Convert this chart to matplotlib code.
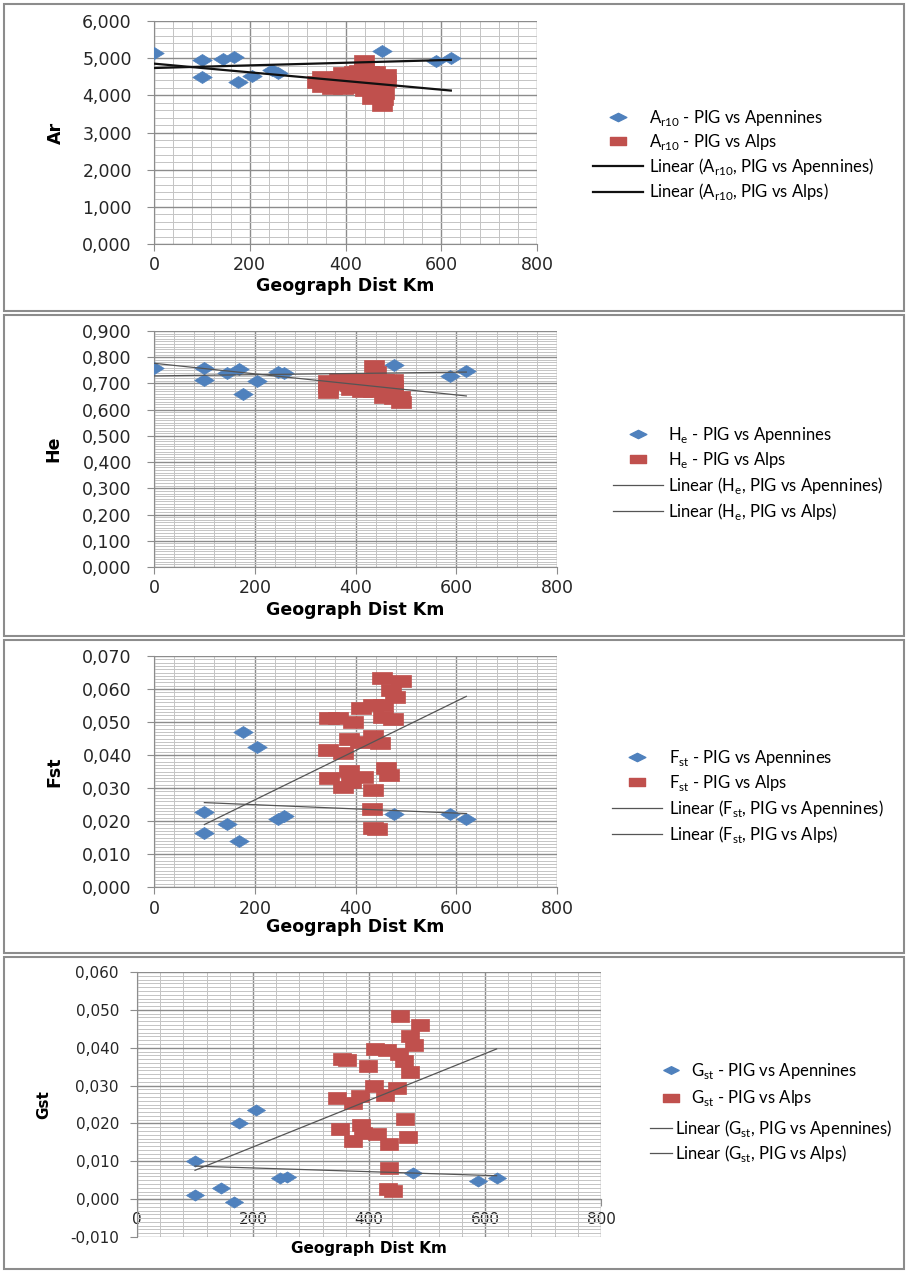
import matplotlib.pyplot as plt
import numpy as np
from matplotlib.path import Path
from matplotlib.lines import Line2D
from matplotlib.patches import Rectangle
from matplotlib.ticker import MultipleLocator, FuncFormatter

# PIG vs Apennines: geographic distance (km) and per-pair statistics
apen_km = [0, 100, 100, 145, 168, 176, 205, 246, 258, 476, 588, 620]
ar_apen = [5.14, 4.95, 4.50, 4.99, 5.03, 4.35, 4.52, 4.69, 4.60, 5.20, 4.93, 5.01]
he_apen = [0.757, 0.757, 0.712, 0.740, 0.754, 0.659, 0.709, 0.742, 0.740, 0.772, 0.729, 0.747]
# differentiation indices have no zero-distance pair
dif_apen_km = apen_km[1:]
fst_apen = [0.0227, 0.0164, 0.0190, 0.0139, 0.0471, 0.0425, 0.0207, 0.0215, 0.0222, 0.0220, 0.0207]
gst_apen = [0.0101, 0.0012, 0.0030, -0.0007, 0.0201, 0.0236, 0.0056, 0.0059, 0.0070, 0.0049, 0.0056]

# PIG vs Alps
ar_alps_km = [439, 439, 350, 350, 372, 372, 395, 395, 395, 418, 418, 418, 440, 440, 440,
              462, 462, 462, 462, 485, 485, 455, 476, 478, 480, 340, 388, 428, 450]
ar_alps = [4.93, 4.70, 4.48, 4.25, 4.38, 4.19, 4.60, 4.38, 4.20, 4.62, 4.40, 4.22, 4.50, 4.30, 4.15,
           4.62, 4.42, 4.20, 4.02, 4.56, 4.38, 3.92, 3.75, 3.90, 4.05, 4.35, 4.48, 4.66, 4.64]
he_alps_km = [437, 440, 346, 346, 346, 368, 368, 390, 390, 392, 412, 412, 412, 434, 434,
              434, 456, 456, 458, 456, 475, 475, 475, 477, 490, 488, 470, 420, 380]
he_alps = [0.765, 0.745, 0.710, 0.686, 0.668, 0.716, 0.697, 0.717, 0.695, 0.680, 0.716, 0.694, 0.670,
           0.715, 0.693, 0.670, 0.712, 0.690, 0.660, 0.648, 0.713, 0.690, 0.665, 0.645, 0.630, 0.650,
           0.700, 0.705, 0.705]
fst_alps_km = [453, 490, 471, 478, 411, 435, 455, 455, 475, 348, 365, 395, 388, 408, 435,
               448, 345, 375, 461, 466, 388, 348, 415, 375, 391, 435, 432, 435, 442]
fst_alps = [0.0632, 0.0624, 0.0597, 0.0575, 0.0543, 0.0552, 0.0552, 0.0516, 0.0508, 0.0513, 0.0513,
            0.0501, 0.0447, 0.0440, 0.0458, 0.0437, 0.0415, 0.0407, 0.0360, 0.0339, 0.0351, 0.0331,
            0.0332, 0.0304, 0.0319, 0.0294, 0.0235, 0.0178, 0.0175]
gst_alps_km = [454, 488, 471, 477, 410, 431, 451, 460, 471, 353, 362, 398, 408, 428, 448,
               344, 373, 384, 462, 350, 373, 387, 390, 413, 435, 468, 434, 433, 442]
gst_alps = [0.0485, 0.0459, 0.0432, 0.0406, 0.0397, 0.0393, 0.0384, 0.0366, 0.0337, 0.0370, 0.0367,
            0.0353, 0.0298, 0.0275, 0.0293, 0.0267, 0.0254, 0.0273, 0.0212, 0.0185, 0.0154, 0.0196,
            0.0174, 0.0172, 0.0145, 0.0163, 0.0083, 0.0027, 0.0021]

W, H = 906, 1271
fig = plt.figure(figsize=(W / 100, H / 100), dpi=100)

blue = '#4f81bd'
red = '#c0504d'
gmajor = '#8c8c8c'
gminor = '#c4c4c4'

# excel-like markers, stretched wide
diamond = Path([(0, -0.62), (1, 0), (0, 0.62), (-1, 0), (0, -0.62)], closed=True)
square = Path([(-1, -0.62), (1, -0.62), (1, 0.62), (-1, 0.62), (-1, -0.62)], closed=True)
leg_diamond = Path([(0, -0.5), (1, 0), (0, 0.5), (-1, 0), (0, -0.5)], closed=True)
leg_square = Path([(-1, -0.5), (1, -0.5), (1, 0.5), (-1, 0.5), (-1, -0.5)], closed=True)


def comma3(v, pos):
    if abs(v) < 1e-12:
        v = 0.0
    return f'{v:.3f}'.replace('.', ',')


def add_panel(box, ylim, ystep, yminor, apen_x, apen_y, alps_x, alps_y, ylabel,
              tcolor, tlw, ms, fs, ypad, xlab_y, ylab_x, x_at_zero=False):
    l, t, r, b = box
    ax = fig.add_axes([l / W, 1 - b / H, (r - l) / W, (b - t) / H])
    ax.set_xlim(0, 800)
    ax.set_ylim(*ylim)
    ax.xaxis.set_major_locator(MultipleLocator(200))
    ax.xaxis.set_minor_locator(MultipleLocator(40))
    ax.yaxis.set_major_locator(MultipleLocator(ystep))
    ax.yaxis.set_minor_locator(MultipleLocator(yminor))
    ax.yaxis.set_major_formatter(FuncFormatter(comma3))
    ax.set_axisbelow(True)
    ax.grid(which='minor', color=gminor, lw=0.7)
    ax.grid(which='major', color=gmajor, lw=1.0)
    for side in ('top', 'right'):
        ax.spines[side].set_visible(False)
    for side in ('left', 'bottom'):
        ax.spines[side].set_color(gmajor)
    if x_at_zero:
        ax.spines['bottom'].set_position(('data', 0))
    ax.tick_params(which='major', direction='out', length=5, color=gmajor,
                   labelsize=fs, labelcolor='#262626')
    ax.tick_params(axis='y', pad=ypad)
    ax.tick_params(axis='x', pad=4)
    ax.tick_params(which='minor', length=0)

    ax.plot(apen_x, apen_y, ls='none', marker=diamond, ms=ms, color=blue, mec=blue, mew=0.5, zorder=3)
    ax.plot(alps_x, alps_y, ls='none', marker=square, ms=ms, color=red, mec=red, mew=0.5, zorder=3)

    # linear trends, drawn across the full distance range
    xs = np.array([min(min(apen_x), min(alps_x)), max(max(apen_x), max(alps_x))], dtype=float)
    for xv, yv in ((apen_x, apen_y), (alps_x, alps_y)):
        k, c = np.polyfit(xv, yv, 1)
        ax.plot(xs, k * xs + c, color=tcolor, lw=tlw, zorder=4)

    ax.set_xlabel('Geograph Dist Km', fontsize=fs, fontweight='bold')
    ax.xaxis.set_label_coords(0.5, (b - xlab_y) / (b - t))
    ax.xaxis.label.set_va('center')
    ax.set_ylabel(ylabel, fontsize=fs, fontweight='bold')
    ax.yaxis.set_label_coords((ylab_x - l) / (r - l), 0.5)
    ax.yaxis.label.set_va('center')
    return ax


def handles(kind, tcolor, tlw, ms):
    out = []
    if 'm' in kind:
        out += [Line2D([], [], ls='none', marker=leg_diamond, ms=ms, color=blue),
                Line2D([], [], ls='none', marker=leg_square, ms=ms, color=red)]
    if 'l' in kind:
        out += [Line2D([], [], color=tcolor, lw=tlw), Line2D([], [], color=tcolor, lw=tlw)]
    return out


def add_legend(ax, hs, labels, x, y, hlen, pad, fs=12, spacing=0.25):
    return ax.legend(hs, labels, loc='upper left', bbox_to_anchor=(x / W, 1 - y / H),
                     bbox_transform=fig.transFigure, frameon=False, borderpad=0,
                     borderaxespad=0, handlelength=hlen, handletextpad=pad,
                     labelspacing=spacing, prop={'family': 'Lato', 'size': fs})


def labels_for(sym):
    s = sym + '$_\\mathregular{' + {'A': 'r10', 'H': 'e', 'F': 'st', 'G': 'st'}[sym] + '}$'
    return [s + ' - PIG vs Apennines', s + ' - PIG vs Alps',
            'Linear (' + s + ', PIG vs Apennines)', 'Linear (' + s + ', PIG vs Alps)']


ax1 = add_panel((154, 21, 537, 244), (0, 6), 1, 0.2, apen_km, ar_apen, ar_alps_km, ar_alps,
                'Ar', '#111111', 1.6, 14, 12.5, 11, 286, 56)
add_legend(ax1, handles('ml', '#111111', 1.6, 12), labels_for('A'), 593, 108, 3.0, 0.35)

ax2 = add_panel((154, 331, 557, 567), (0, 0.9), 0.1, 0.01, apen_km, he_apen, he_alps_km, he_alps,
                'He', '#555555', 0.9, 14, 12.5, 11, 610, 53)
add_legend(ax2, handles('ml', '#555555', 0.9, 12), labels_for('H'), 613, 425, 3.0, 0.3, spacing=0.3)

ax3 = add_panel((154, 656, 557, 887), (0, 0.07), 0.01, 0.001, dif_apen_km, fst_apen, fst_alps_km, fst_alps,
                'Fst', '#555555', 0.9, 14, 12.5, 11, 927, 54)
add_legend(ax3, handles('ml', '#555555', 0.9, 12), labels_for('F'), 612, 748, 3.0, 0.4, spacing=0.3)

ax4 = add_panel((137, 972, 601, 1237), (-0.01, 0.06), 0.01, 0.001, dif_apen_km, gst_apen, gst_alps_km, gst_alps,
                'Gst', '#555555', 0.9, 13, 11, 8, 1248, 44, x_at_zero=True)
g = labels_for('G')
leg = add_legend(ax4, handles('m', '#555555', 0.9, 11), g[:2], 661, 1061, 1.2, 0.6, spacing=0.45)
ax4.add_artist(leg)
add_legend(ax4, handles('l', '#555555', 0.9, 11), g[2:], 650, 1118, 1.3, 0.2)

# panel frames
for top, bottom in ((4, 311), (315, 636), (640, 953), (957, 1269)):
    fig.patches.append(Rectangle((4 / W, 1 - bottom / H), 900 / W, (bottom - top) / H,
                                 transform=fig.transFigure, fill=False, ec='#8c8c8c', lw=1.5))

fig.savefig('out.png', dpi=100)
